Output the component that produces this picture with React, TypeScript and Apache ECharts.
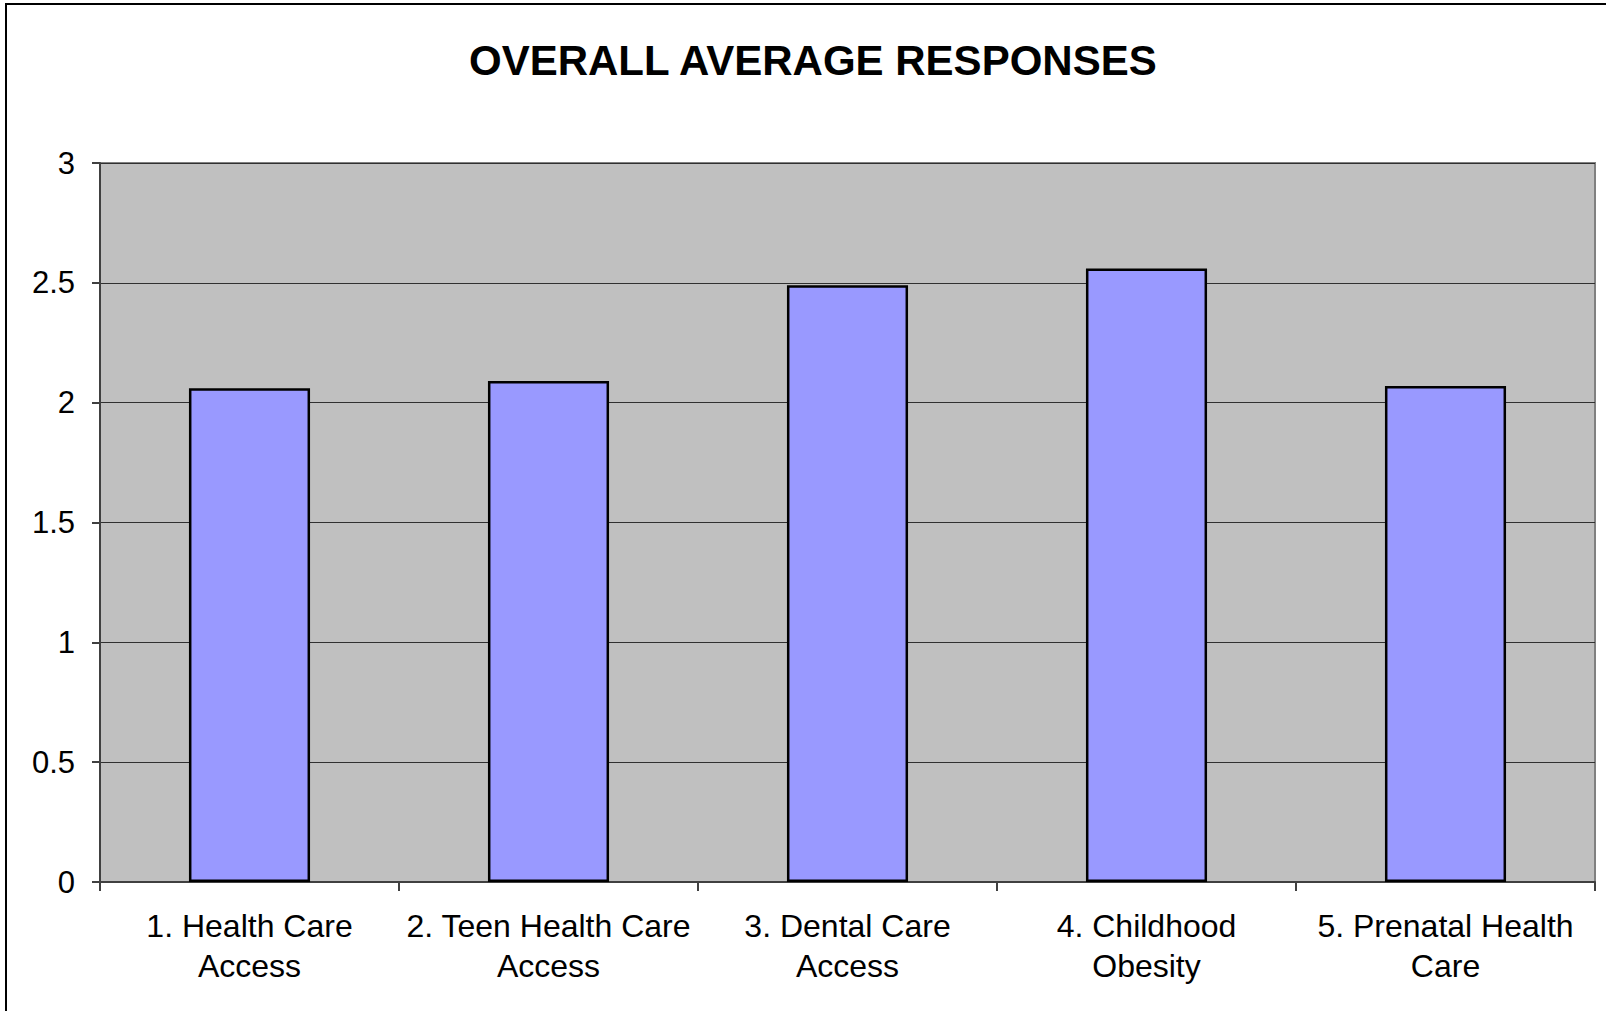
import React, { useEffect, useRef } from "react";
import * as echarts from "echarts";

const titleText = "OVERALL AVERAGE RESPONSES";
const categories = [
  "1. Health Care\nAccess",
  "2. Teen Health Care\nAccess",
  "3. Dental Care\nAccess",
  "4. Childhood\nObesity",
  "5. Prenatal Health\nCare",
];
const values = [2.06, 2.09, 2.49, 2.56, 2.07];
const yMin = 0;
const yMax = 3;
const yInterval = 0.5;

const FONT = '"Liberation Sans", Arial, Helvetica, sans-serif';

export default function App() {
  const ref = useRef<HTMLDivElement>(null);
  useEffect(() => {
    if (!ref.current) return;
    const chart = echarts.init(ref.current, undefined, { renderer: "svg" });
    chart.setOption({
      animation: false,
      backgroundColor: "#ffffff",
      title: {
        text: titleText,
        left: 464,
        top: 34,
        textStyle: { fontFamily: FONT, fontSize: 42, fontWeight: "bold", color: "#000" },
      },
      graphic: [
        {
          type: "rect",
          shape: { x: 6, y: 4, width: 1700, height: 1100 },
          style: { fill: "none", stroke: "#000", lineWidth: 2 },
          silent: true,
        },
      ],
      grid: {
        left: 100,
        top: 163,
        right: 11,
        bottom: 129,
        show: true,
        backgroundColor: "#c0c0c0",
        borderColor: "#808080",
        borderWidth: 2,
        containLabel: false,
      },
      xAxis: {
        type: "category",
        data: categories,
        boundaryGap: true,
        axisLine: { show: true, lineStyle: { color: "#404040", width: 2 } },
        axisTick: { show: true, alignWithLabel: false, length: 9, lineStyle: { color: "#404040", width: 2 } },
        axisLabel: {
          interval: 0,
          margin: 24,
          fontFamily: FONT,
          fontSize: 32,
          lineHeight: 40,
          color: "#000",
          align: "center",
        },
        splitLine: { show: false },
      },
      yAxis: {
        type: "value",
        min: yMin,
        max: yMax,
        interval: yInterval,
        axisLine: { show: true, lineStyle: { color: "#404040", width: 2 } },
        axisTick: { show: true, length: 8, lineStyle: { color: "#404040", width: 2 } },
        axisLabel: {
          margin: 25,
          fontFamily: FONT,
          fontSize: 31,
          color: "#000",
        },
        splitLine: { show: true, lineStyle: { color: "#303030", width: 1 } },
      },
      series: [
        {
          type: "bar",
          data: values,
          barWidth: "40.5%",
          itemStyle: { color: "#9999ff", borderColor: "#000", borderWidth: 2.5 },
        },
      ],
    });
    return () => chart.dispose();
  }, []);
  return (
    <div
      ref={ref}
      style={{ position: "fixed", left: 0, top: 0, width: 1606, height: 1011 }}
    />
  );
}
